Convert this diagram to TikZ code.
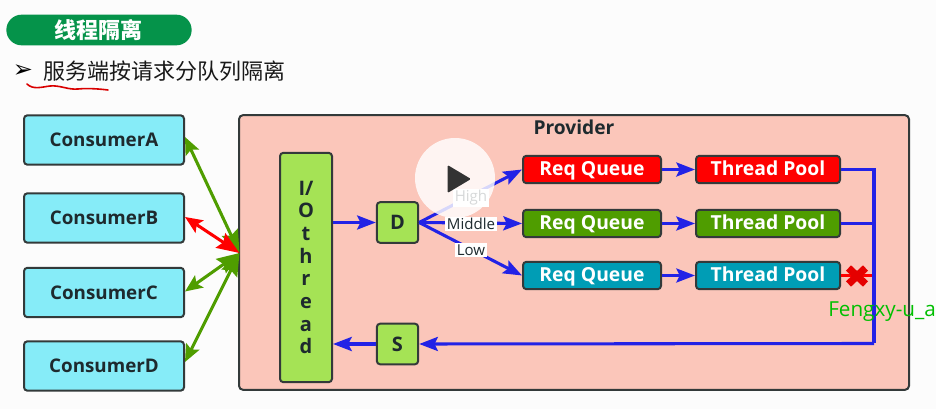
\documentclass[tikz,border=0pt]{standalone}
\usepackage{fontspec}
\setmainfont{Open Sans}
\newfontfamily\cjk{Noto Sans CJK SC}
\newfontfamily\dejavu{DejaVu Sans}
\usetikzlibrary{arrows.meta}
\definecolor{cons}{HTML}{86ECF8}
\definecolor{prov}{HTML}{FBC6BA}
\definecolor{lime}{HTML}{A5E355}
\definecolor{edge}{HTML}{333A3A}
\definecolor{grn}{HTML}{4F9D00}
\definecolor{teal2}{HTML}{009DB5}
\definecolor{blu}{HTML}{2222E6}
\definecolor{hdr}{HTML}{05934A}
\definecolor{txt}{HTML}{1E2A2E}
\tikzset{
  pxbox/.style={draw=edge,line width=1.5pt,rounded corners=2.5pt,inner sep=0pt,minimum width=#1,font=\fontsize{14.1}{15}\bfseries,text=txt},
  consumer/.style={pxbox=120pt,fill=cons,minimum height=37pt,text height=10pt,text depth=0pt},
  small/.style={pxbox=31pt,fill=lime,minimum height=30.5pt},
  stage/.style={draw=edge,line width=1.5pt,rounded corners=2.5pt,inner sep=0pt,minimum height=20.5pt,text height=10.5pt,text depth=1pt,text=white,font=\fontsize{14.5}{15}\bfseries},
  queue/.style={stage,minimum width=103.5pt},
  pool/.style={stage,minimum width=108pt},
  flow/.style={blu,line width=2.3pt,-{Stealth[length=14pt,width=10.5pt,inset=2.5pt]}},
  plain/.style={blu,line width=2.3pt},
  both/.style={line width=2.3pt,{Stealth[length=13pt,width=11pt,inset=2.5pt]}-{Stealth[length=17pt,width=13pt,inset=2.5pt]}},
  tag/.style={fill=white,inner sep=1.2pt,font=\fontsize{11.3}{13}\selectfont,text=txt},
}
\begin{document}
\begin{tikzpicture}[x=0.75pt,y=-0.75pt]
\useasboundingbox (0,0) rectangle (936,409);
\fill[white!99!black] (0,0) rectangle (936,409);
% header
\node[fill=hdr,rounded corners=11.5pt,minimum width=139pt,minimum height=23pt,inner sep=0pt,text=white,font=\cjk\fontsize{16.5}{18}\bfseries] (title) at (99,30) {线程隔离};
\node[font=\dejavu\fontsize{18}{20}\selectfont,text=black,inner sep=0pt] (bullet) at (23,71) {➢};
\node[anchor=west,inner sep=0pt,font=\cjk\fontsize{16.5}{18}\selectfont,text=black!90] (head) at (43,71) {服务端按请求分队列隔离};
\draw[red!85!black,line width=1.2pt,line cap=round] (27,84) .. controls (33,90) and (42,87) .. (50,86) .. controls (60,85) and (68,90) .. (78,89) .. controls (88,88) and (100,89) .. (108,90);
% provider
\node[draw=edge,fill=prov,line width=1.5pt,rounded corners=3pt,minimum width=502.5pt,minimum height=206pt,inner sep=0pt] (provider) at (574,252.5) {};
\node[font=\fontsize{14.4}{15}\bfseries,text=txt,inner sep=0pt] (provlabel) at (574,127) {Provider};
% consumers
\node[consumer] (ca) at (104,140) {ConsumerA};
\node[consumer] (cb) at (104,218) {ConsumerB};
\node[consumer] (cc) at (104,292.5) {ConsumerC};
\node[consumer] (cd) at (104,366) {ConsumerD};
% inner
\node[pxbox=39pt,fill=lime,minimum height=172pt,align=center,font=\fontsize{15}{17}\bfseries] (io) at (306,267.5) {I/\\O\\t\\h\\r\\e\\a\\d};
\node[small,font=\fontsize{15}{17}\bfseries] (d) at (397.5,222.5) {D};
\node[small,font=\fontsize{15}{17}\bfseries] (s) at (397.5,344) {S};
\node[queue,fill=red] (q1) at (592,169.5) {Req Queue};
\node[queue,fill=grn] (q2) at (592,223.5) {Req Queue};
\node[queue,fill=teal2] (q3) at (592,275.5) {Req Queue};
\node[pool,fill=red] (p1) at (768,169.5) {Thread Pool};
\node[pool,fill=grn] (p2) at (768,223.5) {Thread Pool};
\node[pool,fill=teal2] (p3) at (768,275.5) {Thread Pool};
% hub
\coordinate (hub) at (239.5,253);
\coordinate (busT) at (874,169.5);
\coordinate (busM) at (874,223.5);
\coordinate (busB) at (874,343.5);
\coordinate (xmark) at (857,276);
\coordinate (busR) at (872,275.5);
\draw[both,grn] (ca.east) ++(0,-3) coordinate (caE) (caE) -- (hub);
\draw[both,grn] (cc.east) ++(0,-1) coordinate (ccE) (ccE) -- (hub);
\draw[both,grn] (cd.east) ++(0,-4) coordinate (cdE) (cdE) -- (hub);
\draw[both,red] (cb.east) ++(0,-1) coordinate (cbE) (cbE) -- (hub);
% flows
\draw[flow] (io.east |- d.west) -- (d.west);
\draw[flow] (d.east) -- (q1.west);
\draw[flow] (d.east) -- (q2.west);
\draw[flow] (d.east) -- (q3.west);
\draw[flow] (q1) -- (p1);
\draw[flow] (q2) -- (p2);
\draw[flow] (q3) -- (p3);
\draw[plain,line join=miter] (p1.east) -- (busT) -- (busB);
\draw[plain] (p2.east) -- (busM);
\draw[flow] (busB) -- (s.east);
\draw[flow] (s.west) -- (io.east |- s.west);
\draw[red,line width=1.8pt] (p3.east) -- (busR);
\node[tag] (high) at (471,198) {High};
\node[tag] (middle) at (471,224) {Middle};
\node[tag] (low) at (471,250) {Low};
% red cross
\draw[red!90!black,line width=5.5pt] (xmark) ++(-8.5,-8) -- ++(17,16) (xmark) ++(8.5,-8) -- ++(-17,16);
% watermark text
\node[anchor=west,inner sep=0pt,font=\fontsize{15.5}{17}\selectfont,text=green!75!black] (wm) at (828,312) {Fengxy-u\_a};
% play button
\fill[white,opacity=.82] (455,178) circle (40);
\fill[black!80,rounded corners=1pt] (447.5,165) -- (471,179) -- (447.5,193) -- cycle;
\end{tikzpicture}
\end{document}
